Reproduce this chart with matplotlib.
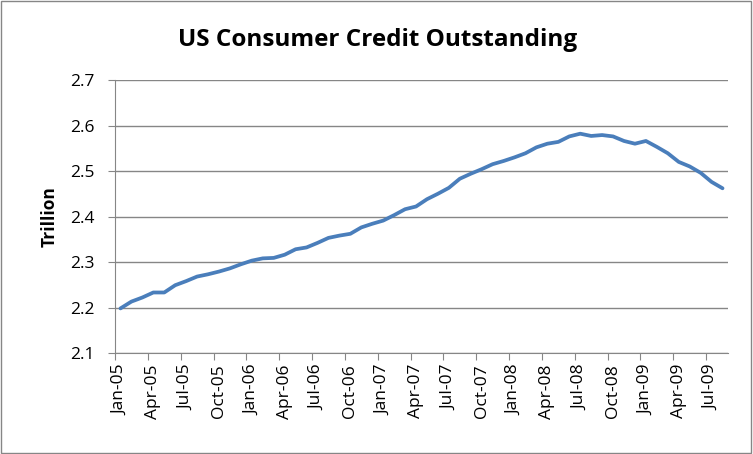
import matplotlib
matplotlib.use("Agg")
import matplotlib.pyplot as plt
from matplotlib.patches import Rectangle

title = "US Consumer Credit Outstanding"
ylabel = "Trillion"
months = ["Jan", "Feb", "Mar", "Apr", "May", "Jun", "Jul", "Aug", "Sep", "Oct", "Nov", "Dec"]
dates = [f"{months[i % 12]}-{5 + i // 12:02d}" for i in range(56)]
values = [2.198, 2.213, 2.222, 2.233, 2.233, 2.249, 2.258, 2.268, 2.273, 2.279,
          2.286, 2.295, 2.303, 2.308, 2.309, 2.316, 2.328, 2.332, 2.342, 2.353,
          2.358, 2.362, 2.376, 2.384, 2.391, 2.403, 2.416, 2.422, 2.438, 2.450,
          2.463, 2.483, 2.494, 2.504, 2.515, 2.522, 2.530, 2.539, 2.552, 2.560,
          2.564, 2.576, 2.582, 2.577, 2.579, 2.576, 2.566, 2.560, 2.566, 2.553,
          2.539, 2.520, 2.510, 2.496, 2.476, 2.462]
yticks = [2.1, 2.2, 2.3, 2.4, 2.5, 2.6, 2.7]

plt.rcParams['font.family'] = ['Open Sans', 'DejaVu Sans']
fig = plt.figure(figsize=(7.53, 4.54), dpi=100)
ax = fig.add_axes([115/753, 1-353/454, (728-115)/753, (353-80)/454])

x = list(range(len(values)))
ax.plot(x, values, color="#4a7ebb", lw=2.7, solid_capstyle="round", zorder=3)

grid_c = "#868686"
ax.set_xlim(-0.5, len(values) - 0.5)
ax.set_ylim(2.1, 2.7)
ax.set_yticks(yticks)
ax.set_yticklabels([f"{v:.1f}" for v in yticks], fontsize=12.5)
ax.yaxis.grid(True, color=grid_c, lw=1)
ax.set_axisbelow(True)

major = [i - 0.5 for i in range(0, len(values) + 1, 3)]
ax.set_xticks(major)
ax.set_xticklabels([])
ax.set_xticks(list(range(0, len(values), 3)), minor=True)
ax.set_xticklabels([dates[i] for i in range(0, len(values), 3)], minor=True,
                   rotation=90, fontsize=12.5)
ax.tick_params(axis="x", which="minor", length=0, pad=8)
ax.tick_params(axis="x", which="major", length=5, color=grid_c, direction="out")
ax.tick_params(axis="y", length=5, color=grid_c, direction="out", pad=10)

for s in ["top", "right"]:
    ax.spines[s].set_color(grid_c) if False else ax.spines[s].set_visible(False)
for s in ["left", "bottom"]:
    ax.spines[s].set_color(grid_c)

ax.set_ylabel(ylabel, fontsize=12.5, fontweight="bold", labelpad=8)
fig.text(378/753, 1-40/454, title, ha="center", va="center", fontsize=17.5, fontweight="bold")

fig.patches.append(Rectangle((0.001, 0.002), 0.997, 0.995, transform=fig.transFigure,
                             fill=False, edgecolor=grid_c, lw=1))
fig.savefig("out.png", dpi=100)
